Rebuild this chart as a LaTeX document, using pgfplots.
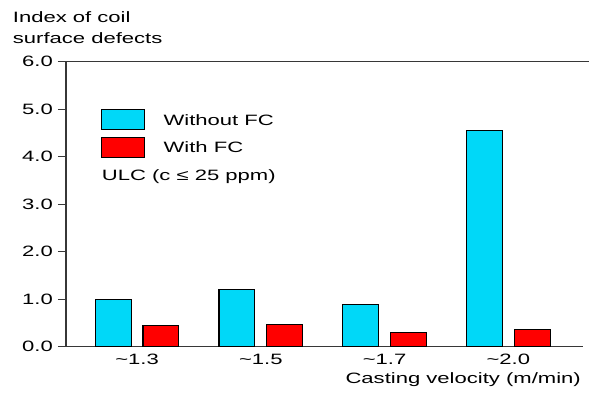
\documentclass[border=0pt]{standalone}
\usepackage{fontspec}
\setmainfont[FakeStretch=1.47]{Liberation Sans}
\usepackage{pgfplots}
\pgfplotsset{compat=1.18}

\definecolor{barcyan}{RGB}{0,216,248}
\definecolor{barred}{RGB}{255,0,0}
\definecolor{axisgray}{RGB}{55,55,55}

\begin{document}
\begin{tikzpicture}[x=1pt,y=1pt]
  \fontsize{15pt}{18pt}\selectfont
  \path[use as bounding box] (0,0) rectangle (589,392);

  \begin{axis}[
    at={(66pt,45.3pt)}, anchor=south west,
    scale only axis,
    width=517pt, height=285pt,
    xmin=-0.574, xmax=3.603,
    ymin=0, ymax=6,
    axis lines=left,
    axis line style={-, draw=axisgray, line width=1.3pt},
    ytick={0,1,2,3,4,5,6},
    tick align=outside,
    major tick length=8pt,
    ytick style={draw=axisgray, line width=1pt},
    xtick={0,1,2,3},
    xticklabels={\textasciitilde1.3,\textasciitilde1.5,\textasciitilde1.7,\textasciitilde2.0},
    xtick style={draw=none},
    xticklabel style={anchor=base, yshift=-10pt},
    yticklabel style={
      /pgf/number format/.cd, fixed, fixed zerofill, precision=1,
      assume math mode=true},
    ticklabel style={font=\fontsize{15pt}{18pt}\selectfont},
    ybar, bar width=0.29,
    legend style={
      draw=none, fill=none,
      at={(rel axis cs:0,1)}, anchor=north west,
      xshift=34.7pt, yshift=-47.3pt,
      inner sep=0pt, outer sep=0pt,
      row sep=6.5pt,
      font=\fontsize{15pt}{18pt}\selectfont,
      nodes={inner sep=0pt, anchor=base west},
      /tikz/every odd column/.append style={column sep=18.7pt},
    },
    legend cell align=left,
    legend image code/.code={
      \draw[#1, line width=1.2pt] (0pt,-4.5pt) rectangle (43pt,15.5pt);
    },
    clip=false,
  ]
    % defect index without flow control
    \addplot[fill=barcyan, draw=black, line width=1.2pt, bar shift=-0.193]
      coordinates {(0,1.00) (1,1.20) (2,0.89) (3,4.56)};
    \addlegendentry{Without FC}
    % defect index with flow control
    \addplot[fill=barred, draw=black, line width=1.2pt, bar shift=0.193]
      coordinates {(0,0.45) (1,0.46) (2,0.30) (3,0.37)};
    \addlegendentry{With FC}

    % top frame line at 6.0
    \draw[axisgray, line width=1.3pt]
      ([xshift=-8pt]rel axis cs:0,1) -- ([xshift=6pt]rel axis cs:1,1);

    \node[anchor=base west, inner sep=0pt] at (rel axis cs:0.069,0.583)
      {ULC (c ≤ 25 ppm)};
    \node[anchor=base east, inner sep=0pt] at ([yshift=-36.3pt,xshift=-2pt]rel axis cs:1,0)
      {Casting velocity (m/min)};
  \end{axis}

  \node[anchor=base west, inner sep=0pt] at (12.7,369) {Index of coil};
  \node[anchor=base west, inner sep=0pt] at (12.7,348.5) {surface defects};
\end{tikzpicture}
\end{document}
